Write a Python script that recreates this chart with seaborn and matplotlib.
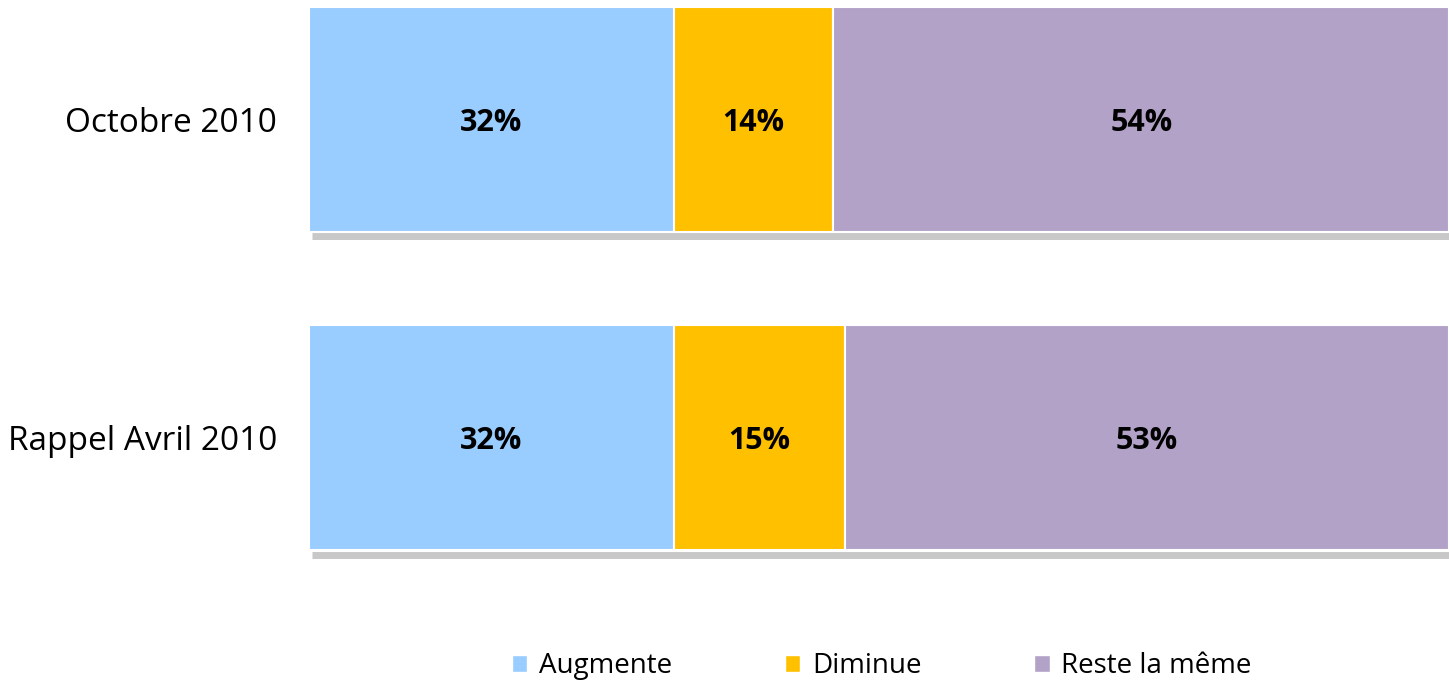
import numpy as np
import pandas as pd
import matplotlib.pyplot as plt
import seaborn as sns
from matplotlib.patches import Patch

periods = ['Octobre 2010', 'Rappel Avril 2010']
series = ['Augmente', 'Diminue', 'Reste la même']
augmente = [32, 32]
diminue = [14, 15]
reste = [54, 53]
colors = ['#99CCFF', '#FFC000', '#B3A2C7']

df = pd.DataFrame({'period': periods, 'Augmente': augmente,
                   'Diminue': diminue, 'Reste la même': reste})

sns.set_style('white')
plt.rcParams['font.family'] = ['Open Sans', 'DejaVu Sans']

fig = plt.figure(figsize=(14.49, 6.8), dpi=100)
ax = fig.add_axes([309 / 1449, 80 / 680, 1 - 309 / 1449, 600 / 680])

ypos = np.arange(len(periods))
bar_h = 0.706
left = np.zeros(len(periods))
for name, col in zip(series, colors):
    vals = df[name].values
    ax.barh(ypos, vals, left=left, height=bar_h, color=col,
            edgecolor='white', linewidth=1.5, zorder=3)
    for y, v, l in zip(ypos, vals, left):
        ax.text(l + v / 2, y + 0.01, f'{v}%', ha='center', va='center',
                fontsize=22, fontweight='bold', color='black', zorder=4)
    left = left + vals

# grey shadow line under bars
ax.hlines(ypos + bar_h / 2 + 0.014, 0.3, 100, color='#C8C8C8', lw=5, zorder=1)

ax.set_xlim(0, 100)
ax.set_ylim(1.509, -0.375)
ax.set_yticks(ypos)
ax.set_yticklabels(periods, fontsize=24, color='black')
ax.tick_params(axis='y', length=0, pad=23)
ax.set_xticks([])
sns.despine(ax=ax, left=True, bottom=True)

handles = [Patch(facecolor=c, label=s) for s, c in zip(series, colors)]
fig.legend(handles=handles, loc='center', bbox_to_anchor=(882 / 1449, 1 - 666 / 680),
           ncol=3, frameon=False, fontsize=20, labelcolor='black',
           handlelength=0.55, handleheight=0.55, handletextpad=0.43, columnspacing=4.05)

plt.savefig('out.png', dpi=100)
